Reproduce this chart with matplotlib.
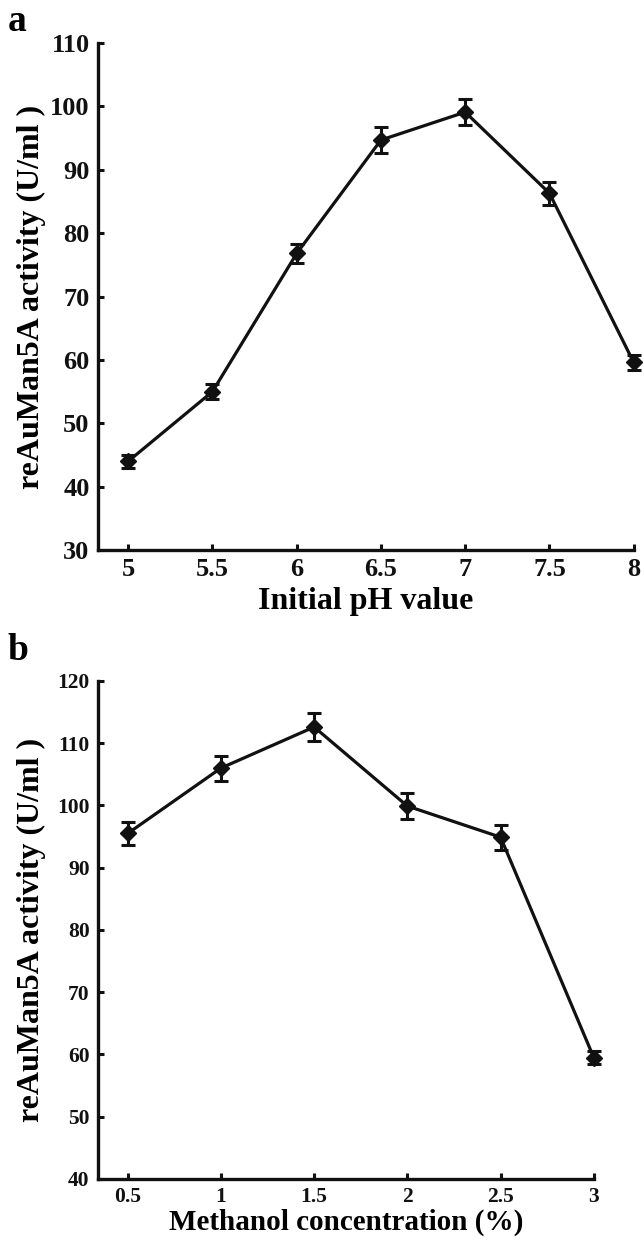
import numpy as np
import matplotlib.pyplot as plt

# panel a: initial pH
ph_values = [5, 5.5, 6, 6.5, 7, 7.5, 8]
ph_activity = [44.0, 55.0, 76.8, 94.7, 99.1, 86.3, 59.6]
ph_err = [1.0, 1.2, 1.5, 2.0, 2.0, 1.8, 1.2]
ph_ticks = [5, 5.5, 6, 6.5, 7, 7.5, 8]
ph_tick_labels = ["5", "5.5", "6", "6.5", "7", "7.5", "8"]

# panel b: methanol concentration
meoh_values = [0.5, 1, 1.5, 2, 2.5, 3]
meoh_activity = [95.5, 106.0, 112.6, 99.9, 94.9, 59.5]
meoh_err = [1.8, 2.0, 2.3, 2.1, 2.0, 1.0]
meoh_ticks = [0.5, 1, 1.5, 2, 2.5, 3]
meoh_tick_labels = ["0.5", "1", "1.5", "2", "2.5", "3"]

ylabel = "reAuMan5A activity (U/ml )"

plt.rcParams['font.family'] = ['Liberation Serif', 'DejaVu Serif']
plt.rcParams['font.weight'] = 'bold'
plt.rcParams['axes.labelweight'] = 'bold'

fig = plt.figure(figsize=(6.44, 12.41), dpi=100)
ax_a = fig.add_axes([0.152, 0.5568, 0.832, 0.4085])
ax_b = fig.add_axes([0.152, 0.050, 0.770, 0.4013])


def style_axis(ax, tick_size):
    for side in ("top", "right"):
        ax.spines[side].set_visible(False)
    for side in ("left", "bottom"):
        ax.spines[side].set_linewidth(2.4)
        ax.spines[side].set_color("#111111")
    ax.tick_params(direction="in", length=4, width=2.2, colors="#111111",
                   labelsize=tick_size, pad=6)
    for lab in ax.get_xticklabels() + ax.get_yticklabels():
        lab.set_fontweight("bold")


line_kw = dict(color="#111111", marker="D", markersize=8, linewidth=2.3,
               elinewidth=2.2, capsize=5, capthick=2.2, clip_on=False)

# ---- panel a
ax_a.errorbar(ph_values, ph_activity, yerr=ph_err, **line_kw)
ax_a.set_xlim(4.82, 8.0)
ax_a.set_ylim(30, 110)
ax_a.set_yticks(np.arange(30, 111, 10))
ax_a.set_xticks(ph_ticks)
ax_a.set_xticklabels(ph_tick_labels)
style_axis(ax_a, 19)
ax_a.set_xlabel("Initial pH value", fontsize=23, fontweight="bold", labelpad=4)
ax_a.set_ylabel(ylabel, fontsize=23, fontweight="bold")
ax_a.yaxis.set_label_coords(-0.096, 0.5)
fig.text(0.012, 0.983, "a", fontsize=27, fontweight="bold", va="center", ha="left")

# ---- panel b
ax_b.errorbar(meoh_values, meoh_activity, yerr=meoh_err, **line_kw)
ax_b.set_xlim(0.34, 3.0)
ax_b.set_ylim(40, 120)
ax_b.set_yticks(np.arange(40, 121, 10))
ax_b.set_xticks(meoh_ticks)
ax_b.set_xticklabels(meoh_tick_labels)
style_axis(ax_b, 15.5)
ax_b.set_xlabel("Methanol concentration (%)", fontsize=21, fontweight="bold", labelpad=1)
ax_b.set_ylabel(ylabel, fontsize=23, fontweight="bold")
ax_b.yaxis.set_label_coords(-0.104, 0.5)
fig.text(0.012, 0.476, "b", fontsize=27, fontweight="bold", va="center", ha="left")

fig.savefig("out.png", dpi=100)
